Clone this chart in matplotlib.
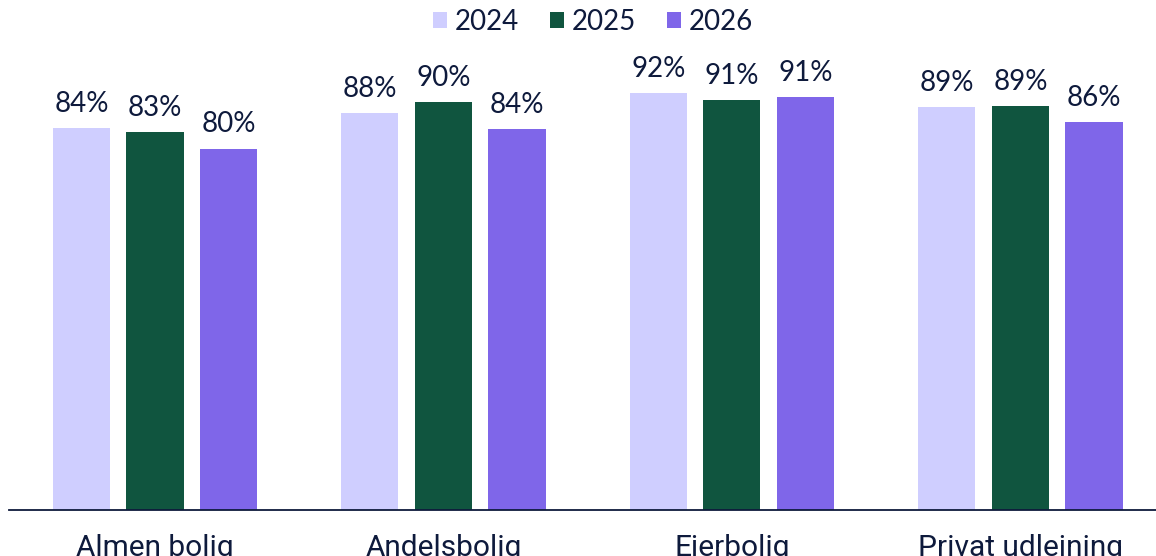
import matplotlib.pyplot as plt
import numpy as np

# data
categories = ['Almen bolig', 'Andelsbolig', 'Ejerbolig', 'Privat udlejning']
years = ['2024', '2025', '2026']
v2024 = [84.4, 87.6, 92.1, 89.0]
v2025 = [83.4, 90.1, 90.6, 89.2]
v2026 = [79.8, 84.1, 91.2, 85.6]
labels2024 = ['84%', '88%', '92%', '89%']
labels2025 = ['83%', '90%', '91%', '89%']
labels2026 = ['80%', '84%', '91%', '86%']

colors = ['#cfceff', '#10553f', '#7f66e9']
text_color = '#0e1a3c'

plt.rcParams['font.family'] = ['Lato', 'DejaVu Sans']

fig = plt.figure(figsize=(11.56, 5.56), dpi=100)
ax = fig.add_axes([9 / 1156, 46 / 556, 1 - 9 / 1156, 510 / 556])

x = np.arange(len(categories))
step = 0.255
width = 0.198
series = [v2024, v2025, v2026]
series_labels = [labels2024, labels2025, labels2026]

for i, (vals, labs) in enumerate(zip(series, series_labels)):
    bars = ax.bar(x + (i - 1) * step, vals, width, color=colors[i], label=years[i])
    for bar, lab in zip(bars, labs):
        ax.annotate(lab, (bar.get_x() + bar.get_width() / 2, bar.get_height()),
                    xytext=(0, 8), textcoords='offset points',
                    ha='center', va='bottom', fontsize=20, color=text_color)

ax.set_xlim(-0.506, 3.47)
ax.set_ylim(0, 112.6)
ax.set_xticks(x)
ax.set_xticklabels(categories, fontsize=21.5, color=text_color, family=['Roboto', 'DejaVu Sans'])
ax.tick_params(axis='x', length=0, pad=17)
ax.set_yticks([])
for side in ['left', 'right', 'top']:
    ax.spines[side].set_visible(False)
ax.spines['bottom'].set_color(text_color)
ax.spines['bottom'].set_linewidth(1.3)

leg = fig.legend(loc='center', bbox_to_anchor=(593 / 1156, 1 - 22 / 556), ncol=3,
                 frameon=False, fontsize=20, handlelength=0.5, handleheight=0.5,
                 handletextpad=0.3, columnspacing=1.1)
for t in leg.get_texts():
    t.set_color(text_color)

fig.savefig('out.png', dpi=100)
